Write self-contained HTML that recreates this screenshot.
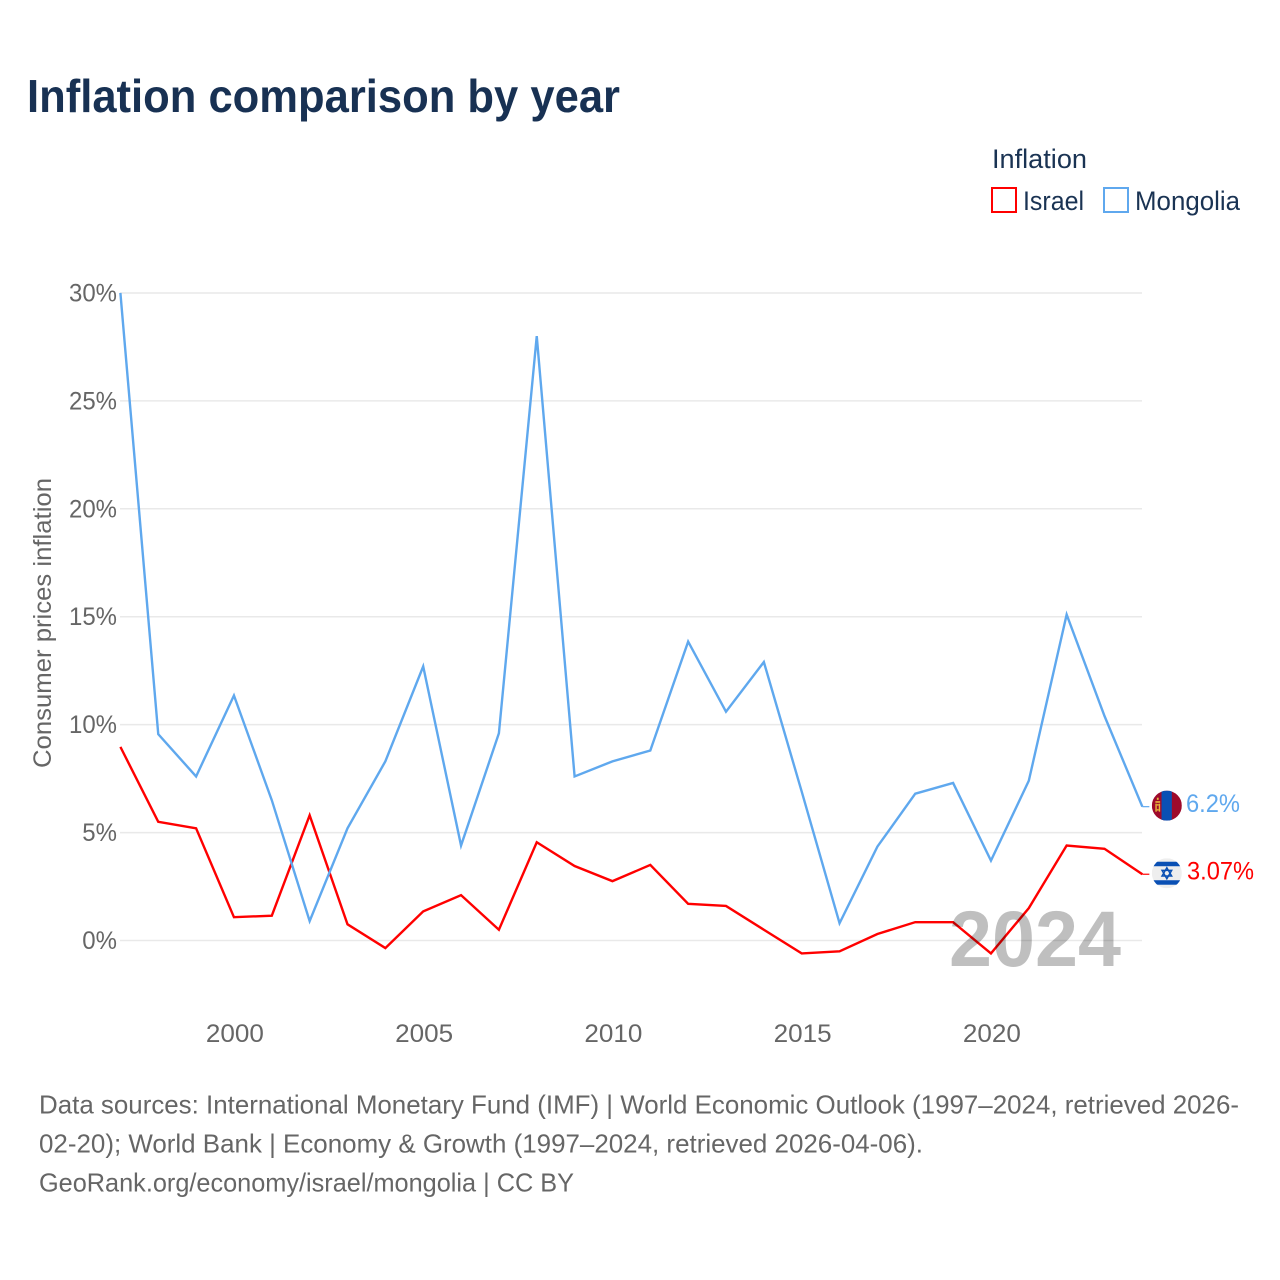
<!DOCTYPE html>
<html lang="en">
<head>
<meta charset="utf-8">
<title>Inflation comparison by year</title>
<style>
html,body{margin:0;padding:0;background:#fff;}
svg{display:block;font-family:"Liberation Sans",sans-serif;}
</style>
</head>
<body>
<svg id="chart" xmlns="http://www.w3.org/2000/svg" width="1280" height="1280" viewBox="0 0 1280 1280">
  <rect width="1280" height="1280" fill="#ffffff"/>
  <text x="27" y="112" font-size="46" font-weight="700" fill="#183153" textLength="593" lengthAdjust="spacingAndGlyphs">Inflation comparison by year</text>

  <text x="992" y="168" font-size="27" fill="#1a3353" textLength="95" lengthAdjust="spacingAndGlyphs">Inflation</text>
  <rect x="992" y="188" width="24" height="24" fill="none" stroke="#ff0000" stroke-width="2"/>
  <text x="1023" y="210" font-size="27" fill="#1a3353" textLength="61" lengthAdjust="spacingAndGlyphs">Israel</text>
  <rect x="1104" y="188" width="24" height="24" fill="none" stroke="#5fa8ee" stroke-width="2"/>
  <text x="1135" y="210" font-size="27" fill="#1a3353" textLength="105" lengthAdjust="spacingAndGlyphs">Mongolia</text>

  <g id="grid"></g>
  <g id="yticks"></g>
  <g id="xticks"></g>
  <text transform="translate(51,768) rotate(-90)" font-size="25" fill="#666666" textLength="290" lengthAdjust="spacingAndGlyphs">Consumer prices inflation</text>
  <g id="series"></g>
  <text x="949" y="966" font-size="79" font-weight="700" fill="#000000" fill-opacity="0.25" textLength="172" lengthAdjust="spacingAndGlyphs">2024</text>

  <defs>
    <clipPath id="flag-clip-mn"><circle cx="0" cy="0" r="15"/></clipPath>
    <clipPath id="flag-clip-il"><circle cx="0" cy="0" r="15"/></clipPath>
  </defs>
  <g id="flag-mongolia">
    <g clip-path="url(#flag-clip-mn)">
      <rect x="-15" y="-15" width="30" height="30" fill="#9e0a2b"/>
      <rect x="-5.3" y="-15" width="10.3" height="30" fill="#0a50b4"/>
      <rect x="-10" y="-8" width="1.8" height="2.2" fill="#e8b83a"/>
      <rect x="-11.5" y="-4.5" width="4.8" height="1.6" fill="#e8b83a"/>
      <rect x="-11.5" y="-2" width="1.4" height="8" fill="#e8b83a"/>
      <rect x="-8.1" y="-2" width="1.4" height="8" fill="#e8b83a"/>
      <rect x="-10.1" y="-1.5" width="2" height="1.4" fill="#e8b83a"/>
      <rect x="-10.1" y="3.5" width="2" height="1.4" fill="#e8b83a"/>
    </g>
  </g>
  <g id="flag-israel">
    <g clip-path="url(#flag-clip-il)">
      <rect x="-15" y="-15" width="30" height="30" fill="#eeeeee"/>
      <rect x="-15" y="-11.5" width="30" height="4.5" fill="#0a50b4"/>
      <rect x="-15" y="7" width="30" height="4.5" fill="#0a50b4"/>
      <path d="M0,-5.5 L4.8,2.8 L-4.8,2.8 Z M0,5.5 L4.8,-2.8 L-4.8,-2.8 Z" fill="none" stroke="#0a50b4" stroke-width="1.5"/>
    </g>
  </g>
  <g id="end-labels"></g>

  <g font-size="26" fill="#666666">
    <text x="39" y="1113.5" textLength="1200" lengthAdjust="spacingAndGlyphs">Data sources: International Monetary Fund (IMF) | World Economic Outlook (1997–2024, retrieved 2026-</text>
    <text x="39" y="1152.5" textLength="884" lengthAdjust="spacingAndGlyphs">02-20); World Bank | Economy &amp; Growth (1997–2024, retrieved 2026-04-06).</text>
    <text x="39" y="1191.5" textLength="535" lengthAdjust="spacingAndGlyphs">GeoRank.org/economy/israel/mongolia | CC BY</text>
  </g>
</svg>
<script>
const years = [1997,1998,1999,2000,2001,2002,2003,2004,2005,2006,2007,2008,2009,2010,2011,2012,2013,2014,2015,2016,2017,2018,2019,2020,2021,2022,2023,2024];
const israelValues = [8.97,5.5,5.2,1.08,1.15,5.8,0.75,-0.35,1.35,2.1,0.5,4.55,3.45,2.75,3.5,1.7,1.6,0.5,-0.6,-0.5,0.3,0.85,0.85,-0.6,1.5,4.4,4.25,3.07];
const mongoliaValues = [30,9.56,7.6,11.35,6.5,0.9,5.2,8.3,12.7,4.4,9.6,28,7.6,8.3,8.8,13.85,10.6,12.9,6.9,0.8,4.35,6.8,7.3,3.7,7.4,15.1,10.4,6.2];
const yTicks = [0,5,10,15,20,25,30];
const xTicks = [2000,2005,2010,2015,2020];
const israelEndLabel = '3.07%';
const mongoliaEndLabel = '6.2%';

const NS = 'http://www.w3.org/2000/svg';
function xScale(year){ return 120.4 + (year - 1997) * 37.85; }
function yScale(value){ return 940.5 - value * 21.585; }
function make(tag, attrs, parent){
  const el = document.createElementNS(NS, tag);
  for (const k in attrs) el.setAttribute(k, attrs[k]);
  parent.appendChild(el);
  return el;
}

const grid = document.getElementById('grid');
const yGroup = document.getElementById('yticks');
yTicks.forEach(function(t){
  const line = make('line', {x1:120, x2:1142, y1:yScale(t), y2:yScale(t), stroke:'#e9e9e9', 'stroke-width':1.5}, grid);
  
  
  const label = make('text', {x:117, y:yScale(t)+8.5, 'font-size':25, fill:'#666666', 'text-anchor':'end'}, yGroup);
  
  
  label.textContent = t + '%';
  label.setAttribute('textLength', (label.getComputedTextLength() * 0.96).toFixed(1));
  label.setAttribute('lengthAdjust', 'spacingAndGlyphs');
});

const xGroup = document.getElementById('xticks');
xTicks.forEach(function(t){
  const label = make('text', {x:xScale(t)+1, y:1042, 'font-size':25, fill:'#666666', 'text-anchor':'middle', textLength:58, lengthAdjust:'spacingAndGlyphs'}, xGroup);
  
  
  label.textContent = t;
});

function pathFor(values){
  return values.map(function(v,i){
    return (i ? 'L' : 'M') + xScale(years[i]).toFixed(2) + ',' + yScale(v).toFixed(2);
  }).join(' ');
}
const seriesGroup = document.getElementById('series');
const last = years.length - 1;

const israelLine = make('path', {d:pathFor(israelValues), fill:'none', stroke:'#ff0000', 'stroke-width':2.4, 'stroke-linejoin':'miter'}, seriesGroup);


const mongoliaLine = make('path', {d:pathFor(mongoliaValues), fill:'none', stroke:'#5fa8ee', 'stroke-width':2.4, 'stroke-linejoin':'miter'}, seriesGroup);



const israelLeader = make('line', {x1:xScale(years[last]), x2:xScale(years[last])+7, y1:yScale(israelValues[last]), y2:yScale(israelValues[last]), stroke:'#ff0000', 'stroke-width':1.2}, seriesGroup);


const mongoliaLeader = make('line', {x1:xScale(years[last]), x2:xScale(years[last])+7, y1:yScale(mongoliaValues[last]), y2:yScale(mongoliaValues[last]), stroke:'#5fa8ee', 'stroke-width':1.2}, seriesGroup);



const flagX = xScale(years[last]) + 24.5;
document.getElementById('flag-mongolia').setAttribute('transform', 'translate(' + flagX + ',' + (yScale(mongoliaValues[last]) - 1) + ')');
document.getElementById('flag-israel').setAttribute('transform', 'translate(' + flagX + ',' + (yScale(israelValues[last]) - 1) + ')');

const endLabels = document.getElementById('end-labels');
const mongoliaValueLabel = make('text', {x:1186, y:yScale(mongoliaValues[last])+5.5, 'font-size':25, fill:'#5fa8ee', textLength:54, lengthAdjust:'spacingAndGlyphs'}, endLabels);


mongoliaValueLabel.textContent = mongoliaEndLabel;
const israelValueLabel = make('text', {x:1187, y:yScale(israelValues[last])+5.5, 'font-size':25, fill:'#ff0000', textLength:67, lengthAdjust:'spacingAndGlyphs'}, endLabels);


israelValueLabel.textContent = israelEndLabel;
</script>
</body>
</html>
